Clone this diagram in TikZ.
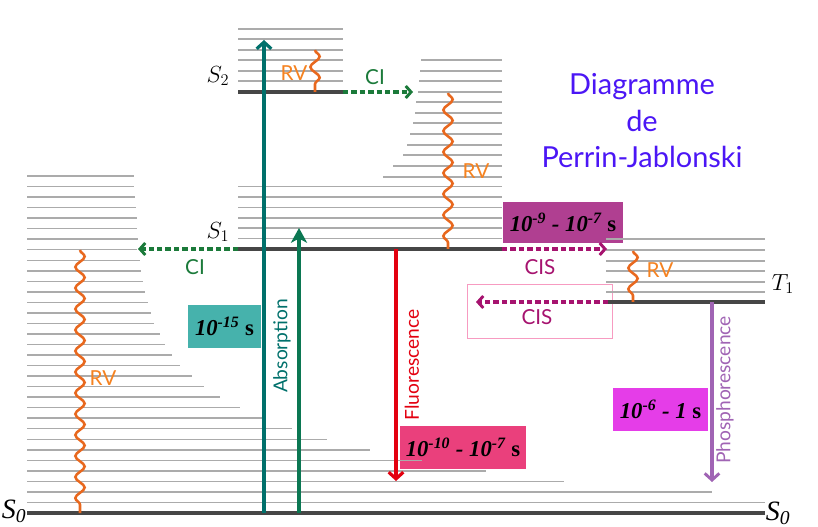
\RequirePackage{fix-cm}
\documentclass[tikz,border=0pt]{standalone}
\usepackage{fontspec}
\newfontfamily\labf{Lato}
\newfontfamily\tms{Liberation Serif}
\usetikzlibrary{arrows.meta,decorations.pathmorphing}
\definecolor{lvlgray}{HTML}{ABABAB}
\definecolor{stategray}{HTML}{464646}
\definecolor{absteal}{HTML}{00706B}
\definecolor{absgreen}{HTML}{0B7752}
\definecolor{cigreen}{HTML}{1B7A3A}
\definecolor{cismag}{HTML}{A6136F}
\definecolor{fluored}{HTML}{E3000F}
\definecolor{phosvio}{HTML}{A064B4}
\definecolor{waveor}{HTML}{E8681E}
\definecolor{rvor}{HTML}{F58220}
\definecolor{boxpurple}{HTML}{B03F91}
\definecolor{boxpink}{HTML}{EA407C}
\definecolor{boxmag}{HTML}{E53DE8}
\definecolor{boxteal}{HTML}{46B2AC}
\definecolor{pinkborder}{HTML}{F79BC1}
\definecolor{titleblue}{HTML}{4B16F5}
\begin{document}
\begin{tikzpicture}[x=0.75pt,y=-0.75pt,
  lvl/.style={draw=lvlgray, line width=1.1pt},
  statelvl/.style={draw=stategray, line width=3pt},
  wave/.style={draw=waveor, line width=1.9pt, decorate,
    decoration={snake, amplitude=3.5pt, segment length=15.75pt}},
  dotarr/.style={line width=3pt, dash pattern=on 4pt off 2.3pt,
    -{Straight Barb[length=4pt,width=9pt,line width=2.2pt]}},
  barbarr/.style={line width=3pt, -{Straight Barb[length=5pt,width=11pt,line width=2.4pt]}},
  lab/.style={font=\labf\fontsize{15.5}{17}\selectfont, inner sep=0pt},
  vlab/.style={font=\labf\fontsize{14.4}{16}\selectfont, rotate=90, inner sep=0pt},
  tbox/.style={inner sep=0pt, text=black, font=\tms\fontsize{17}{19}\selectfont\bfseries\itshape},
  slab/.style={inner sep=0pt, font=\fontsize{17.5}{20}\selectfont},
  szero/.style={inner sep=0pt, font=\tms\fontsize{21}{23}\selectfont\itshape},
  ttl/.style={inner sep=0pt, anchor=base, text=titleblue, font=\labf\fontsize{21.7}{26}\selectfont},
]
\useasboundingbox (0,0) rectangle (818,527);

% time boxes
\node[tbox, fill=boxpurple, minimum width=90pt, minimum height=30.75pt] (t1) at (563,222.5)
  {10\textsuperscript{-9} - 10\textsuperscript{-7} \upshape s};
\node[tbox, fill=boxpink, minimum width=94.5pt, minimum height=32.25pt] (t2) at (463,447.5)
  {10\textsuperscript{-10} - 10\textsuperscript{-7} \upshape s};
\node[tbox, fill=boxmag, minimum width=71.25pt, minimum height=32.25pt] (t3) at (660.5,409.5)
  {10\textsuperscript{-6} - 1 \upshape s};
\node[tbox, fill=boxteal, minimum width=54.75pt, minimum height=32.25pt] (t4) at (224.5,326.5)
  {10\textsuperscript{-15} \upshape s};
\draw[pinkborder, line width=0.7pt] (467,284) rectangle (612,338);

% S0 vibrational levels (left block)
\foreach \k/\xe in {1/765,2/712,3/564,4/486,5/422,6/370,7/327,8/292,9/262,10/240,
  11/220,12/204,13/192,14/180,15/172,16/165,17/160,18/154,19/151,20/148,
  21/145,22/143,23/141,24/140,25/137,26/138,27/137,28/137,29/136,30/135,31/134,32/134}
  \draw[lvl] (27,{513-10.53*\k}) -- (\xe,{513-10.53*\k});

% S1 levels (center)
\foreach \j in {1,...,6}
  \draw[lvl] (238,{249-10.4*\j}) -- (502,{249-10.4*\j});
% S2->S1 conversion block
\foreach \yy/\xs in {60/421,71/420,81/419,92/418,102/416,113/415,123/413,134/410,145/407,155/403,166/393,177/383}
  \draw[lvl] (\xs,\yy) -- (502,\yy);
% S2 levels
\foreach \yy in {29,39,50,60,71,81}
  \draw[lvl] (238,\yy) -- (343,\yy);
% T1 levels
\foreach \yy in {239,250,261,271,282,292}
  \draw[lvl] (606,\yy) -- (765,\yy);

% electronic states
\coordinate (S0a) at (27,513);  \coordinate (S0b) at (765,513);
\coordinate (S1a) at (238,249); \coordinate (S1b) at (502,249);
\coordinate (S2a) at (238,92);  \coordinate (S2b) at (343,92);
\coordinate (T1a) at (608,302); \coordinate (T1b) at (765,302);
\draw[statelvl] (S0a) -- (S0b);
\draw[statelvl] (S1a) -- (S1b);
\draw[statelvl] (S2a) -- (S2b);
\draw[statelvl] (T1a) -- (T1b);

% labels of states
\node[slab] (lS2) at (218,76) {$S_2$};
\node[slab] (lS1) at (218,232) {$S_1$};
\node[slab] (lT1) at (783,284) {$T_1$};
\node[szero] (lS0a) at (14,511) {S\textsubscript{0}};
\node[szero] (lS0b) at (778,513) {S\textsubscript{0}};

% coordinates for arrows
\coordinate (a1s) at (264,513); \coordinate (a1e) at (264,40);
\coordinate (a2s) at (299,513); \coordinate (a2e) at (299,228);
\coordinate (fs) at (396,249);  \coordinate (fe) at (396,481);
\coordinate (ps) at (712,302);  \coordinate (pe) at (712,482);
\coordinate (ci1e) at (413,92);
\coordinate (ci2e) at (138,249);
\coordinate (cis1e) at (607,249);
\coordinate (cis2e) at (476,302);

% absorption
\draw[absteal, barbarr] (a1s) -- (a1e);
\draw[absgreen, line width=3pt, -{Stealth[length=11pt,width=12pt,inset=3pt]}] (a2s) -- (a2e);
\node[vlab, text=absteal] (labs) at (282,346) {Absorption};
% fluorescence
\draw[fluored, barbarr] (fs) -- (fe);
\node[vlab, text=fluored] (lfl) at (412,365) {Fluorescence};
% phosphorescence
\draw[phosvio, line width=2.5pt, -{Straight Barb[length=5pt,width=11pt,line width=2.2pt]}] (ps) -- (pe);
\node[vlab, text=phosvio] (lph) at (725,390) {Phosphorescence};

% internal conversions
\draw[cigreen, dotarr] (S2b) -- (ci1e);
\node[lab, text=cigreen] (lci1) at (375,77) {CI};
\draw[cigreen, dotarr] (S1a) -- (ci2e);
\node[lab, text=cigreen] (lci2) at (195,267) {CI};
% intersystem crossings
\draw[cismag, dotarr] (S1b) -- (cis1e);
\node[lab, text=cismag] (lcis1) at (540,267) {CIS};
\draw[cismag, dotarr] (T1a) -- (cis2e);
\node[lab, text=cismag] (lcis2) at (537,317) {CIS};

% vibrational relaxations
\coordinate (w1s) at (315,50);  \coordinate (w1e) at (315,92);
\coordinate (w2s) at (448,93);  \coordinate (w2e) at (448,249);
\coordinate (w3s) at (633,251); \coordinate (w3e) at (633,302);
\coordinate (w4s) at (80,250);  \coordinate (w4e) at (80,513);
\draw[wave] (w1s) -- (w1e);
\draw[wave] (w2s) -- (w2e);
\draw[wave] (w3s) -- (w3e);
\draw[wave] (w4s) -- (w4e);
\node[lab, text=rvor] (rv1) at (294,73) {RV};
\node[lab, text=rvor] (rv2) at (476,171) {RV};
\node[lab, text=rvor] (rv3) at (660,270) {RV};
\node[lab, text=rvor] (rv4) at (103,378) {RV};

% title
\node[ttl] (tt1) at (642,95) {Diagramme};
\node[ttl] (tt2) at (642,132) {de};
\node[ttl] (tt3) at (642,168) {Perrin-Jablonski};
\end{tikzpicture}
\end{document}
